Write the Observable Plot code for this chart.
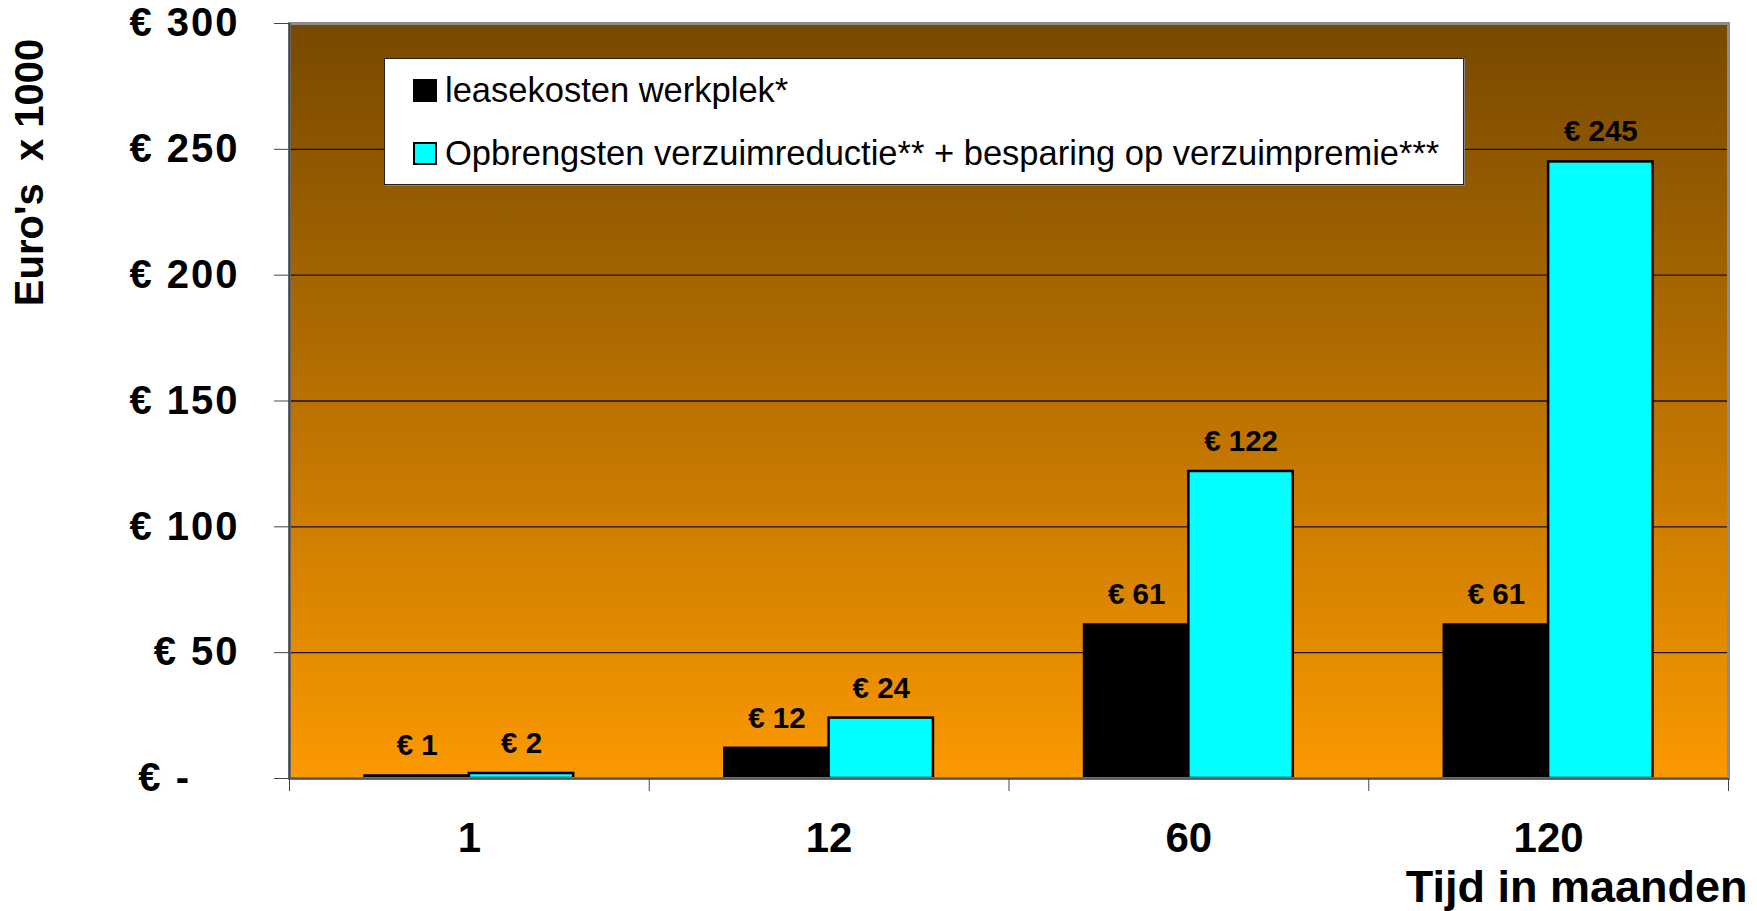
<!DOCTYPE html>
<html>
<head>
<meta charset="utf-8">
<script src="https://cdn.jsdelivr.net/npm/d3@7"></script>
<script src="https://cdn.jsdelivr.net/npm/@observablehq/plot@0.6"></script>
<style>
  html, body { margin: 0; padding: 0; background: #fff; }
  body { font-family: "Liberation Sans", Arial, sans-serif; }
  #wrap { position: relative; width: 1757px; height: 911px; }
  #legend {
    position: absolute; left: 384px; top: 58px; width: 1078px; height: 125px;
    background: #fff; border: 1px solid #222; box-shadow: 1px 1px 0 #888;
    font-family: "Liberation Sans", Arial, sans-serif; font-size: 34.5px; color: #000;
  }
  .item { position: absolute; left: 28px; display: flex; align-items: center; white-space: nowrap; }
  .sw { width: 20px; height: 19px; border: 2px solid #000; margin-right: 8px; }
  .ytick text { letter-spacing: 2px; }
</style>
</head>
<body>
<div id="wrap"><div id="legend"></div></div>
<script>
// ---- data ----
const months = ["1", "12", "60", "120"];
const seriesNames = ["leasekosten werkplek*", "Opbrengsten verzuimreductie** + besparing op verzuimpremie***"];
const leasekosten = [1, 12, 61, 61];
const opbrengsten = [2, 24, 122, 245];
const yTicks = [0, 50, 100, 150, 200, 250, 300];
const seriesColors = ["#000000", "#00ffff"];
const xTitle = "Tijd in maanden";
const yTitle = "Euro's\u00a0 x 1000";

// ---- layout ----
const groupPad = 0.21, barW = 0.29;
const rows = [];
months.forEach((m, i) => {
  rows.push({month: m, i, s: 0, series: seriesNames[0], value: leasekosten[i]});
  rows.push({month: m, i, s: 1, series: seriesNames[1], value: opbrengsten[i]});
});
const euro = v => v === 0 ? "€ -\u2007\u2007" : "€ " + v;
const font = "Liberation Sans, Arial, sans-serif";

const chart = Plot.plot({
  width: 1757,
  height: 911,
  marginLeft: 289,
  marginRight: 29,
  marginTop: 23,
  marginBottom: 133,
  style: {fontFamily: font, background: "#fff", overflow: "visible"},
  x: {domain: [0, months.length], axis: null},
  y: {domain: [0, 300], axis: null},
  color: {domain: seriesNames, range: seriesColors},
  marks: [
    Plot.frame({fill: "url(#bgGrad)", stroke: "none"}),
    Plot.gridY(yTicks, {stroke: "#000", strokeOpacity: 0.85, strokeWidth: 1.3}),
    Plot.rectY(rows, {
      x1: d => d.i + groupPad + d.s * barW,
      x2: d => d.i + groupPad + (d.s + 1) * barW,
      y: "value",
      fill: "series",
      stroke: "#000",
      strokeWidth: 2.5
    }),
    Plot.text(rows, {
      x: d => d.i + groupPad + (d.s + 0.5) * barW,
      y: "value",
      text: d => "€ " + d.value,
      dy: -30,
      lineAnchor: "middle",
      fontSize: 29.5,
      fontWeight: "bold",
      fill: "#000"
    }),
    Plot.frame({stroke: "#8c8c8c", strokeWidth: 3}),
    Plot.ruleY([0], {stroke: "#555", strokeWidth: 2}),
    Plot.ruleX([0], {stroke: "#444", strokeWidth: 2}),
    Plot.axisY({
      ticks: yTicks,
      tickFormat: euro,
      tickSize: 15,
      tickPadding: 35,
      fontSize: 40,
      fontWeight: "bold",
      stroke: "#444",
      className: "ytick",
      label: null
    }),
    Plot.axisX({
      ticks: d3.range(months.length + 1),
      tickFormat: () => "",
      tickSize: 13,
      stroke: "#444",
      label: null
    }),
    Plot.axisX({
      ticks: months.map((m, i) => i + 0.5),
      tickFormat: d => months[Math.floor(d)],
      tickSize: 0,
      tickPadding: 44,
      fontSize: 42,
      fontWeight: "bold",
      label: null
    }),
    Plot.text([xTitle], {
      frameAnchor: "bottom-right",
      text: d => d,
      textAnchor: "end",
      lineAnchor: "bottom",
      dx: 19,
      dy: 123,
      fontSize: 45,
      fontWeight: "bold"
    }),
    Plot.text([yTitle], {
      frameAnchor: "top-left",
      text: d => d,
      rotate: -90,
      textAnchor: "middle",
      lineAnchor: "middle",
      dx: -259,
      dy: 149,
      fontSize: 40,
      fontWeight: "bold"
    })
  ]
});

// gradient background
const ns = "http://www.w3.org/2000/svg";
const defs = document.createElementNS(ns, "defs");
defs.innerHTML = '<linearGradient id="bgGrad" x1="0" y1="0" x2="0" y2="1">' +
  '<stop offset="0%" stop-color="#774900"/>' +
  '<stop offset="100%" stop-color="#fb9900"/></linearGradient>';
chart.insertBefore(defs, chart.firstChild);

const wrap = document.getElementById("wrap");
wrap.insertBefore(chart, wrap.firstChild);

// legend
const legend = document.getElementById("legend");
seriesNames.forEach((name, k) => {
  const it = document.createElement("div");
  it.className = "item";
  it.style.top = (k === 0 ? 12 : 75) + "px";
  const sw = document.createElement("span");
  sw.className = "sw";
  sw.style.background = seriesColors[k];
  const tx = document.createElement("span");
  tx.textContent = name;
  it.appendChild(sw);
  it.appendChild(tx);
  legend.appendChild(it);
});
</script>
</body>
</html>
